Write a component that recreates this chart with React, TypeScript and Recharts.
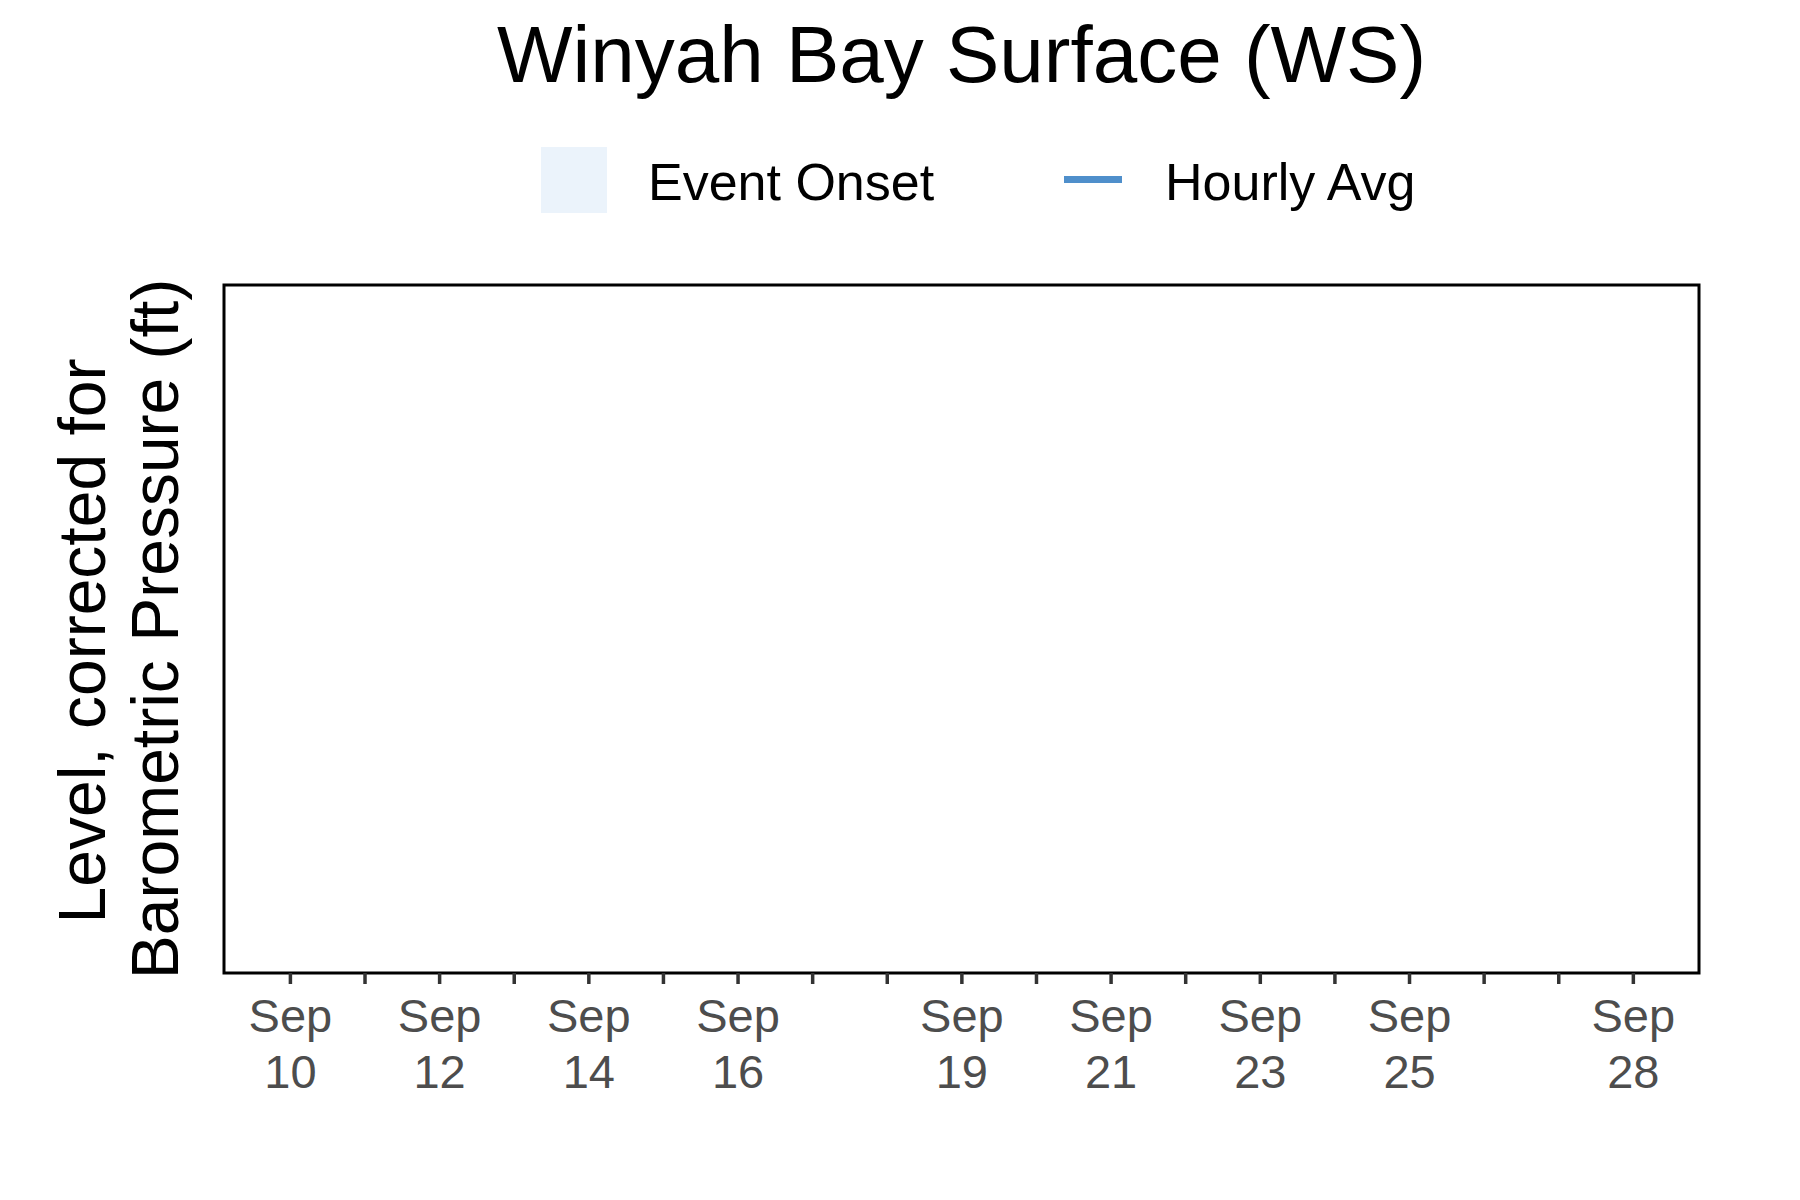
import { Legend, Line, LineChart, ReferenceArea, XAxis, YAxis } from "recharts";

const TITLE = "Winyah Bay Surface (WS)";
const Y_LABEL_LINES = ["Level, corrected for", "Barometric Pressure (ft)"];

// days of September with a tick mark, and the ones that carry a label
const TICK_DAYS = [10, 11, 12, 13, 14, 15, 16, 17, 18, 19, 20, 21, 22, 23, 24, 25, 26, 27, 28];
const LABEL_DAYS = [10, 12, 14, 16, 19, 21, 23, 25, 28];
const MONTH = "Sep";
const X_DOMAIN: [number, number] = [9.11, 28.88];
const Y_DOMAIN: [number, number] = [0, 1];

// the station reported nothing in this window
const HOURLY_AVG: { day: number; level: number | null }[] = [];

const FONT = "'Liberation Sans', Arial, Helvetica, sans-serif";
const LINE_BLUE = "#4F8FCB";
const ONSET_FILL = "#EBF3FB";
const LEGEND_H = 230;

function DayTick(props: any) {
  const { x, y, payload } = props;
  if (!LABEL_DAYS.includes(payload.value)) return null;
  return (
    <text x={x} y={y} textAnchor="middle" fill="#4D4D4D" fontSize={47} fontFamily={FONT}>
      <tspan x={x} dy={46}>{MONTH}</tspan>
      <tspan x={x} dy={56}>{payload.value}</tspan>
    </text>
  );
}

function LegendBox() {
  return (
    <svg width={1800} height={LEGEND_H} style={{ display: "block" }}>
      <rect x={541} y={147} width={66} height={66} fill={ONSET_FILL} />
      <text x={648} y={200} fontSize={52} fontFamily={FONT} fill="#000">
        Event Onset
      </text>
      <line x1={1064} x2={1122} y1={179.5} y2={179.5} stroke={LINE_BLUE} strokeWidth={7} />
      <text x={1165} y={200} fontSize={52} fontFamily={FONT} fill="#000">
        Hourly Avg
      </text>
    </svg>
  );
}

export default function App() {
  const rows = HOURLY_AVG.length
    ? HOURLY_AVG
    : TICK_DAYS.map((d) => ({ day: d, level: null }));

  return (
    <div style={{ position: "absolute", left: 0, top: 0, width: 1800, height: 1200, background: "#fff" }}>
      <svg
        width={1800}
        height={1200}
        style={{ position: "absolute", left: 0, top: 0, pointerEvents: "none", zIndex: 2 }}
      >
        <text x={961.5} y={82} textAnchor="middle" fontSize={80} fontFamily={FONT} fill="#000">
          {TITLE}
        </text>
        <text
          transform="translate(105,629) rotate(-90)"
          textAnchor="middle"
          fontSize={66}
          fontFamily={FONT}
          fill="#000"
        >
          {Y_LABEL_LINES.map((t, i) => (
            <tspan key={i} x={i === 0 ? -12 : 0} dy={i === 0 ? 0 : 73}>
              {t}
            </tspan>
          ))}
        </text>
      </svg>
      {/* the top legend's height is added to the top margin by recharts */}
      <LineChart
        width={1800}
        height={1200}
        data={rows}
        margin={{ top: 285 - LEGEND_H, right: 101, bottom: 107, left: 224 }}
      >
        <XAxis
          dataKey="day"
          type="number"
          domain={X_DOMAIN}
          ticks={TICK_DAYS}
          interval={0}
          allowDataOverflow
          height={120}
          axisLine={false}
          tickLine={{ stroke: "#333333", strokeWidth: 3.5 }}
          tickSize={11}
          tickMargin={2}
          tick={<DayTick />}
        />
        <YAxis
          type="number"
          domain={Y_DOMAIN}
          allowDataOverflow
          width={0}
          tick={false}
          tickLine={false}
          axisLine={false}
        />
        {/* panel border */}
        <ReferenceArea
          x1={X_DOMAIN[0]}
          x2={X_DOMAIN[1]}
          fill="none"
          fillOpacity={0}
          stroke="#000"
          strokeWidth={3}
          ifOverflow="visible"
        />
        <Legend
          verticalAlign="top"
          content={<LegendBox />}
          wrapperStyle={{ position: "absolute", top: 0, left: 0, width: 1800, height: LEGEND_H }}
        />
        <Line
          dataKey="level"
          name="Hourly Avg"
          stroke={LINE_BLUE}
          strokeWidth={3}
          dot={false}
          isAnimationActive={false}
        />
      </LineChart>
    </div>
  );
}
